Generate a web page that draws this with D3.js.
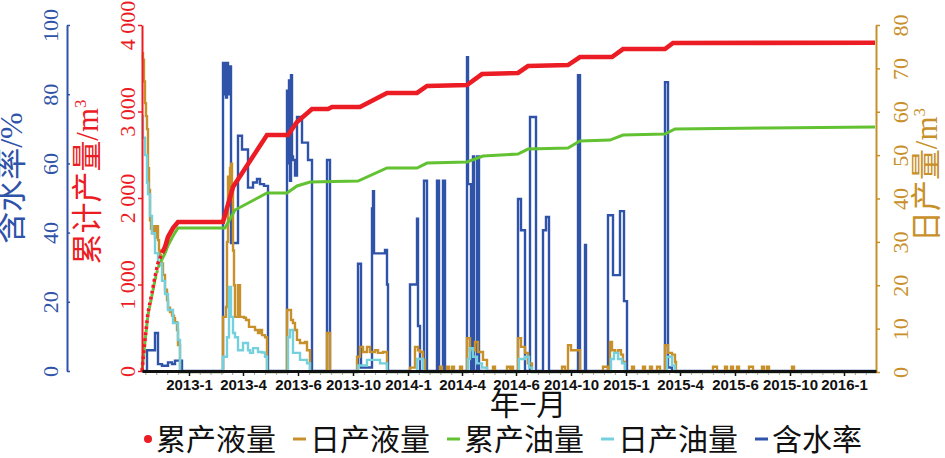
<!DOCTYPE html>
<html><head><meta charset="utf-8">
<script src="https://cdn.jsdelivr.net/npm/d3@7"></script>
<style>body{margin:0;background:#fff}</style></head>
<body><svg id="c" width="945" height="458"></svg>
<script>
// ---------- data ----------
const tickLabels = ["2013-1","2013-4","2013-6","2013-10","2014-1","2014-4","2014-6","2014-10","2015-1","2015-4","2015-6","2015-10","2016-1"];
const tickIndex = [47,101,156,211,266,320,374,429,484,538,593,648,702];
const waterTicks = [0,20,40,60,80,100];
const cumTicks = [0,1000,2000,3000,4000];
const dailyTicks = [0,10,20,30,40,50,60,70,80];
const legendNames = ["累产液量","日产液量","累产油量","日产油量","含水率"];

// cumulative liquid (m3) [record index, value]
const cumLiquid = [[0,0],[3,358],[6,670],[10,902],[13,1087],[16,1248],[20,1364],[23,1433],[26,1549],[31,1653],[36,1722],
[81,1722],[91,2127],[125,2728],[146,2728],[155,2878],[170,3029],[186,3029],[190,3052],[218,3052],[245,3214],[275,3214],
[285,3295],[325,3306],[340,3433],[376,3445],[386,3526],[426,3537],[438,3630],[470,3630],[481,3722],[523,3722],[531,3792],[733,3795]];
// cumulative oil (m3)
const cumOil = [[0,0],[3,340],[6,650],[10,875],[13,1050],[16,1190],[20,1290],[23,1360],[26,1450],[31,1560],[36,1653],
[83,1653],[93,1861],[125,2058],[145,2058],[155,2139],[168,2185],[216,2196],[245,2347],[275,2347],[285,2404],[325,2416],
[341,2485],[376,2508],[386,2566],[426,2578],[438,2659],[468,2670],[481,2728],[523,2740],[533,2798],[625,2809],[733,2821]];
// daily liquid (m3)
const dailyLiquid = [[0,73.5],[1,72],[2,67],[3,62],[4,59],[5,56],[6,47],[7,42],[8,35],[9,33],[10,32],[12,33.6],[13,31],[14,33],[15,33.6],[16,30.4],[17,28],[18,27],[19,25],[21,22.4],[23,19],[25,16.6],[26,14.8],[28,13.8],[30,13],[32,12.4],[33,11.5],[35,9.7],[36,6.2],[38,0],
[81,12.7],[84,15],[85,30],[86,45],[87,40],[88,47],[89,48],[90,42],[91,28],[92,20],[93,12.7],[96,20],[98,12.7],[102,12.5],[104,12],[107,10.4],[113,9.7],[116,9],[118,9.7],[120,8.5],[123,8],[125,0],
[145,14.3],[149,12],[151,11.3],[153,9.7],[155,7.4],[158,6.7],[163,6.9],[165,5],[168,0],
[185,9],[188,0],
[215,3.5],[218,5.8],[221,4.6],[225,5.8],[228,4.6],[233,5],[236,4.4],[241,4.6],[245,0],
[268,1],[273,5.8],[276,5],[278,4.6],[281,2.8],[283,0],
[298,1.2],[300,0],[305,1.2],[307,0],[310,1.2],[312,0],[318,1.2],[320,0],
[325,7.8],[328,5],[333,6.9],[336,4.6],[341,2.8],[345,0],
[351,1.2],[353,0],[365,1.2],[368,0],[369,1.2],[371,0],
[376,7.8],[379,5.8],[383,4.4],[386,2],[390,0],
[420,1.2],[423,0],
[426,6.2],[429,5],[438,0],
[461,1.2],[466,0],
[468,6.9],[470,5],[473,4.4],[476,5],[479,4],[481,2.3],[483,0],
[490,1.2],[492,0],[501,1.2],[503,0],[508,1.2],[510,0],[515,1.2],[518,0],
[523,6.2],[526,4.4],[530,4],[533,2.3],[534,0],
[571,1.2],[575,0],[583,1.2],[585,0],[589,1.2],[591,0],[595,1.2],[597,0],[607,1.2],[611,0],[620,1.2],[622,0],[625,1.2],[627,0],[650,1.2],[652,0],
[734,0]];
// daily oil (m3)
const dailyOil = [[0,59],[1,54],[3,50],[5,43.6],[6,41],[8,36],[10,32],[13,27.4],[16,25],[20,21],[23,18],[26,14.3],[31,11.3],[36,7.4],[38,0],
[81,3.5],[85,8],[87,19.6],[89,12.7],[91,9],[93,8],[96,5],[101,6.7],[106,5],[108,4.4],[111,5.5],[116,4.6],[120,4.5],[123,3.5],[125,0],
[146,8],[148,9.7],[151,4.4],[158,2.8],[165,2],[168,0],
[216,1.5],[225,2.8],[238,2],[245,0],
[275,3],[281,0],
[326,3],[328,5.5],[331,3.5],[335,2],[340,1],[345,0],
[377,3],[383,3.5],[387,1],[390,0],
[469,3],[472,4.4],[476,3],[480,2],[483,0],
[525,3.5],[530,1.5],[533,0],
[734,0]];
// water cut (%)
const waterCut = [[0,0],[5,6],[13,11],[16,2],[20,1.5],[26,2.5],[30,2],[33,3],[40,0],
[81,89],[82,80],[83,89],[84,79],[85,89],[86,80],[87,88],[89,37],[96,68],[100,64],[106,53],[111,54.5],[115,55.5],[118,54],[122,53.5],[126,0],
[145,81],[146,60],[147,84],[148,55],[149,85.5],[150,62],[151,61],[153,56.5],[155,73.4],[160,66],[166,61],[170,0],
[185,61],[188,0],
[216,31],[219,1],[230,47],[231,52],[232,34],[243,35],[245,25],[246,0],
[268,25],[275,44],[276,13],[278,0],[282,55],[285,0],[295,55],[297,0],[301,55],[303,0],
[325,90.7],[326,54],[329,0],[331,62],[332,0],[335,62],[337,0],
[376,49.7],[379,40.7],[383,0],[388,73.4],[394,0],[401,40.7],[404,44.5],[407,0],
[436,85.5],[438,0],[443,36.4],[444,0],
[466,45],[471,27.7],[478,46.2],[482,20.2],[485,0],
[523,83.5],[526,1],[530,0],
[734,0]];

// ---------- drawing ----------
const C = {blue:"#2f53a8", red:"#ec1c24", gold:"#c8902a", green:"#62c232", cyan:"#74d0dc", black:"#111"};
const CJK = "'Noto Sans CJK SC','Noto Sans',sans-serif";
const SERIF = "'Liberation Serif','DejaVu Serif',serif";
const svg = d3.select("#c");

const x = d3.scaleLinear().domain([0,734]).range([142,876]);
const yW = d3.scaleLinear().domain([0,100]).range([371,25]);
const yC = d3.scaleLinear().domain([0,4000]).range([371,25]);
const yD = d3.scaleLinear().domain([0,80]).range([372,25]);

const stepLine = (ys) => d3.line().x(d=>x(d[0])).y(d=>ys(d[1])).curve(d3.curveStepAfter);
const lin = (ys) => d3.line().x(d=>x(d[0])).y(d=>ys(d[1]));
const SPLIT = 20; // early steep part drawn as dotted markers

const plot = svg.append("g").attr("fill","none");
plot.append("path").datum(waterCut).attr("d",stepLine(yW)).attr("stroke",C.blue).attr("stroke-width",2.4);
plot.append("path").datum(dailyLiquid).attr("d",stepLine(yD)).attr("stroke",C.gold).attr("stroke-width",2.4);
plot.append("path").datum(dailyOil).attr("d",stepLine(yD)).attr("stroke",C.cyan).attr("stroke-width",2.4);
plot.append("path").datum(cumOil.filter(d=>d[0]<=SPLIT)).attr("d",lin(yC)).attr("stroke",C.green).attr("stroke-width",3).attr("stroke-dasharray","3,3").attr("stroke-dashoffset",3);
plot.append("path").datum(cumOil.filter(d=>d[0]>=SPLIT)).attr("d",lin(yC)).attr("stroke",C.green).attr("stroke-width",3);
plot.append("path").datum(cumLiquid.filter(d=>d[0]<=SPLIT)).attr("d",lin(yC)).attr("stroke",C.red).attr("stroke-width",3.6).attr("stroke-dasharray","3,3");
plot.append("path").datum(cumLiquid.filter(d=>d[0]>=SPLIT)).attr("d",lin(yC)).attr("stroke",C.red).attr("stroke-width",4.6);

function styleAxis(g,color,w){
  g.select(".domain").attr("stroke",color).attr("stroke-width",w);
  g.selectAll(".tick line").attr("stroke",color).attr("stroke-width",1.5);
}
function rotLabels(g,color,dx){
  g.selectAll(".tick text").attr("x",null).attr("dy","0.35em").attr("text-anchor","middle")
   .attr("transform",`translate(${dx},0) rotate(-90)`)
   .attr("fill",color).style("font-family",SERIF).style("font-size","22px");
}
// left water-cut axis
const gW = svg.append("g").attr("transform","translate(67,0)")
  .call(d3.axisRight(yW).tickValues(waterTicks).tickSize(3).tickSizeOuter(0));
styleAxis(gW,C.blue,2); rotLabels(gW,C.blue,-17);
// cumulative axis
const gC = svg.append("g").attr("transform","translate(142,0)")
  .call(d3.axisLeft(yC).tickValues(cumTicks).tickSize(4).tickSizeOuter(0)
  .tickFormat(d=>d3.format(",")(d).replace(","," ")));
styleAxis(gC,C.red,2); rotLabels(gC,C.red,-15);
// daily axis
const gD = svg.append("g").attr("transform","translate(876,0)")
  .call(d3.axisRight(yD).tickValues(dailyTicks).tickSize(4).tickSizeOuter(0));
styleAxis(gD,C.gold,2); rotLabels(gD,C.gold,24);

// bottom axis
const minor = [];
for(let i=-1;i<tickIndex.length;i++){
  const a = i<0 ? tickIndex[0]-54.6 : tickIndex[i];
  const b = i<0 ? tickIndex[0] : (tickIndex[i+1]!==undefined ? tickIndex[i+1] : tickIndex[i]+54.6);
  for(let k=1;k<5;k++){ const v=a+(b-a)*k/5; if(v>0&&v<734) minor.push(v); }
}
svg.append("g").attr("transform","translate(0,372)")
  .call(d3.axisBottom(x).tickValues(minor).tickSize(3).tickFormat(""))
  .call(g=>{g.select(".domain").remove(); g.selectAll(".tick line").attr("stroke","#aaa").attr("stroke-width",1.2);});
const gX = svg.append("g").attr("transform","translate(0,371)")
  .call(d3.axisBottom(x).tickValues(tickIndex).tickFormat((d,i)=>tickLabels[i]).tickSize(5).tickSizeOuter(0));
styleAxis(gX,C.black,3);
gX.selectAll(".tick text").attr("fill",C.black)
  .style("font-family","'Liberation Sans',Arial,sans-serif").style("font-weight","bold").style("font-size","15px");

// axis titles (rotated)
function vtitle(cx,cy,color,parts){
  const t = svg.append("text").attr("transform",`translate(${cx},${cy}) rotate(-90)`)
    .attr("text-anchor","middle").attr("dy","0.36em").attr("fill",color);
  parts.forEach(p=>{
    const s=t.append("tspan").text(p[0]).style("font-family",p[1]).style("font-size",p[2]+"px");
    if(p[3]) s.attr("dy",p[3]);
  });
}
vtitle(16,178,C.blue,[["含水率",CJK,32],["/%",SERIF,32]]);
vtitle(92,182,C.red,[["累计产量",CJK,31],["/m",SERIF,31],["3",SERIF,17,-12]]);
vtitle(931,175,C.gold,[["日产量",CJK,31],["/m",SERIF,31],["3",SERIF,17,-12]]);

// x title
svg.append("text").attr("x",528).attr("y",415).attr("text-anchor","middle")
  .style("font-family",CJK).style("font-size","30px").attr("fill",C.black).text("年−月");

// legend
const legColors=[C.red,C.gold,C.green,C.cyan,C.blue];
const lg = svg.append("g");
let lx = 144; const ly = 439;
legendNames.forEach((n,i)=>{
  if(i===0){ lg.append("circle").attr("cx",lx+4).attr("cy",ly).attr("r",4).attr("fill",legColors[i]); lx+=12; }
  else { lg.append("line").attr("x1",lx).attr("x2",lx+13).attr("y1",ly).attr("y2",ly).attr("stroke",legColors[i]).attr("stroke-width",3); lx+=17; }
  const t = lg.append("text").attr("x",lx).attr("y",ly).attr("dy","0.36em").attr("fill",C.black)
    .style("font-family",CJK).style("font-size","30px").text(n);
  lx += t.node().getComputedTextLength()+17;
});
</script></body></html>
